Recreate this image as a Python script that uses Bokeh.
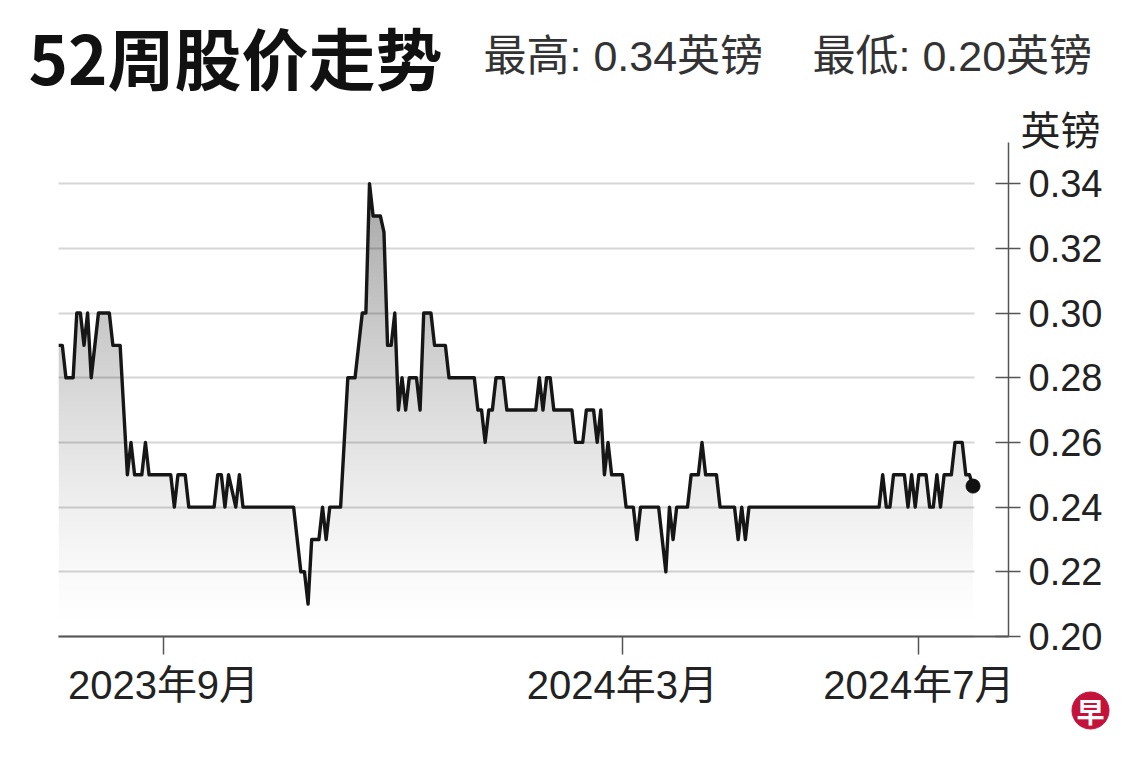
import numpy as np
from bokeh.plotting import figure
from bokeh.models import Range1d, FixedTicker, PrintfTickFormatter, Label
from bokeh.core.properties import value
from bokeh.embed import file_html
from bokeh.resources import INLINE

# ---------------- data ----------------
# x = trading-day number counted from the first day of the 52-week window
start_date = "2023-07-21"
uk_holidays = ["2023-08-28", "2023-12-25", "2023-12-26", "2024-01-01",
               "2024-03-29", "2024-04-01", "2024-05-06", "2024-05-27"]
days = [0, 1, 2, 4, 5, 6, 7, 8, 9, 11,
        14, 15, 17, 19, 20, 21, 23, 24, 25, 31,
        32, 33, 35, 36, 43, 44, 45, 46, 47, 49,
        50, 51, 65, 67, 68, 69, 70, 72, 73, 74,
        75, 78, 80, 82, 84, 85, 86, 87, 89, 90,
        91, 92, 93, 94, 95, 96, 97, 99, 100, 101,
        103, 104, 107, 108, 115, 116, 117, 118, 119, 120,
        121, 123, 124, 132, 133, 134, 135, 136, 137, 142,
        143, 145, 146, 148, 149, 150, 151, 152, 153, 156,
        157, 159, 160, 161, 166, 168, 169, 170, 171, 174,
        175, 177, 178, 179, 182, 183, 187, 188, 189, 190,
        191, 227, 228, 229, 230, 231, 234, 235, 236, 237,
        238, 240, 241, 242, 243, 244, 245, 247, 248, 250,
        251, 252, 253]
prices = [0.29, 0.29, 0.28, 0.28, 0.30, 0.30, 0.29, 0.30, 0.28, 0.30,
          0.30, 0.29, 0.29, 0.25, 0.26, 0.25, 0.25, 0.26, 0.25, 0.25,
          0.24, 0.25, 0.25, 0.24, 0.24, 0.25, 0.25, 0.24, 0.25, 0.24,
          0.25, 0.24, 0.24, 0.22, 0.22, 0.21, 0.23, 0.23, 0.24, 0.23,
          0.24, 0.24, 0.28, 0.28, 0.30, 0.30, 0.34, 0.33, 0.33, 0.325,
          0.29, 0.29, 0.30, 0.27, 0.28, 0.27, 0.28, 0.28, 0.27, 0.30,
          0.30, 0.29, 0.29, 0.28, 0.28, 0.27, 0.27, 0.26, 0.27, 0.27,
          0.28, 0.28, 0.27, 0.27, 0.28, 0.27, 0.28, 0.28, 0.27, 0.27,
          0.26, 0.26, 0.27, 0.27, 0.26, 0.27, 0.25, 0.26, 0.25, 0.25,
          0.24, 0.24, 0.23, 0.24, 0.24, 0.22, 0.24, 0.23, 0.24, 0.24,
          0.25, 0.25, 0.26, 0.25, 0.25, 0.24, 0.24, 0.23, 0.24, 0.23,
          0.24, 0.24, 0.25, 0.24, 0.24, 0.25, 0.25, 0.24, 0.25, 0.24,
          0.25, 0.25, 0.24, 0.24, 0.25, 0.24, 0.25, 0.25, 0.26, 0.26,
          0.25, 0.25, 0.2465]

y_ticks = [0.20, 0.22, 0.24, 0.26, 0.28, 0.30, 0.32, 0.34]
x_tick_dates = ["2023-09-01", "2024-03-01", "2024-07-01"]
x_tick_labels = ["2023年9月", "2024年3月", "2024年7月"]

title_text = "52周股价走势"
high_text = "最高: 0.34英镑"
low_text = "最低: 0.20英镑"
unit_text = "英镑"
logo_text = "早"

# ---------------- layout / styling ----------------
LATIN_CJK = "'Liberation Sans', 'Noto Sans CJK SC'"
CJK = "'Noto Sans CJK SC'"
WIDTH, HEIGHT = 1140, 760
PX_PER_DAY = 3.614         # horizontal scale (pixels per trading day)
ORIGIN_PX = 58.2           # pixel of trading day 0
PX_PER_UNIT = 3235.0       # vertical scale (pixels per 1.00 of price)
AX_LEFT, AX_RIGHT = 58, 1008
AX_BOTTOM, AX_TOP = 636, 142
y_base = 0.20


def px_to_data(px, py):
    return ((px - ORIGIN_PX) / PX_PER_DAY, y_base + (AX_BOTTOM - py) / PX_PER_UNIT)


xr = Range1d(px_to_data(0, 0)[0], px_to_data(WIDTH, 0)[0])
yr = Range1d(px_to_data(0, HEIGHT)[1], px_to_data(0, 0)[1])
d_left = px_to_data(AX_LEFT, 0)[0]
d_axis = px_to_data(AX_RIGHT, 0)[0]
y_axis_top = px_to_data(0, AX_TOP)[1]

p = figure(width=WIDTH, height=HEIGHT, output_backend="svg", toolbar_location=None,
           x_range=xr, y_range=yr, y_axis_location="right", min_border=0)
p.outline_line_color = None
p.background_fill_color = "white"
p.border_fill_color = "white"

p.xgrid.grid_line_color = None
p.ygrid.ticker = FixedTicker(ticks=y_ticks)
p.ygrid.grid_line_color = "#d6d6d6"
p.ygrid.grid_line_width = 2
try:
    p.ygrid.cross_bounds = (d_left, days[-1] + 0.5)
except Exception:
    pass

# gradient area under the line (rendered as a masked image)
W, H = 915, 470
g_top = 0.345
xs = np.linspace(days[0], days[-1], W)
ys = np.linspace(y_base, g_top, H)
line_at = np.interp(xs, days, prices)
frac = np.clip((ys - y_base) / (g_top - y_base), 0, 1) ** 1.35
alpha = (0.37 * 255 * frac)[:, None] * np.ones((1, W))
mask = ys[:, None] <= line_at[None, :]
img = np.zeros((H, W, 4), dtype=np.uint8)
img[..., 3] = np.where(mask, alpha, 0).astype(np.uint8)
p.image_rgba(image=[img.view(np.uint32).reshape(H, W)], x=days[0], y=y_base,
             dw=days[-1] - days[0], dh=g_top - y_base)

p.line(days, prices, line_width=3.4, line_color="#161616", line_join="round")
p.scatter([days[-1]], [prices[-1]], size=14, color="#111111")

# price axis (right)
yax = p.yaxis[0]
yax.fixed_location = d_axis
yax.bounds = (y_base, y_axis_top)
yax.ticker = FixedTicker(ticks=y_ticks)
yax.formatter = PrintfTickFormatter(format="%.2f")
yax.axis_line_color = "#555555"
yax.axis_line_width = 1.5
yax.major_tick_line_color = "#555555"
yax.major_tick_line_width = 1.5
yax.major_tick_in = 13
yax.major_tick_out = 12
yax.minor_tick_line_color = None
yax.major_label_standoff = 8
yax.major_label_text_font = LATIN_CJK
yax.major_label_text_font_size = "38px"
yax.major_label_text_color = "#222222"

# time axis (bottom), ticks at the first trading day of the labelled months
x_ticks = [int(np.busday_count(start_date, d, holidays=uk_holidays)) for d in x_tick_dates]
xax = p.xaxis[0]
xax.fixed_location = y_base
xax.bounds = (d_left, d_axis)
xax.ticker = FixedTicker(ticks=x_ticks)
xax.major_label_overrides = {t: lab for t, lab in zip(x_ticks, x_tick_labels)}
xax.axis_line_color = "#555555"
xax.axis_line_width = 2
xax.major_tick_line_color = "#555555"
xax.major_tick_line_width = 1.5
xax.major_tick_in = 0
xax.major_tick_out = 18
xax.minor_tick_line_color = None
xax.major_label_standoff = 8
xax.major_label_text_font = LATIN_CJK
xax.major_label_text_font_size = "40px"
xax.major_label_text_color = "#222222"

# texts
tx, ty = px_to_data(28, 55)
p.add_layout(Label(x=tx, y=ty, text=title_text, text_font=CJK,
                   text_font_size="67px", text_font_style="bold",
                   text_color="#111111", text_baseline="middle", text_align="left"))
hx, hy = px_to_data(483, 55)
p.add_layout(Label(x=hx, y=hy, text=high_text, text_font=LATIN_CJK,
                   text_font_size="43px", text_color="#333333",
                   text_baseline="middle", text_align="left"))
lx, ly = px_to_data(812, 55)
p.add_layout(Label(x=lx, y=ly, text=low_text, text_font=LATIN_CJK,
                   text_font_size="43px", text_color="#333333",
                   text_baseline="middle", text_align="left"))
ux, uy = px_to_data(1060, 127)
p.add_layout(Label(x=ux, y=uy, text=unit_text, text_font=CJK,
                   text_font_size="40px", text_color="#222222",
                   text_baseline="middle", text_align="center"))

# logo
gx, gy = px_to_data(1090, 710)
p.scatter([gx], [gy], size=37, color="#c4123a")
p.text([gx], [gy], text=[logo_text], text_font=value(CJK), text_font_size="28px",
       text_font_style="bold", text_color="white",
       text_baseline="middle", text_align="center")

open("out.html", "w").write(file_html(p, INLINE))
